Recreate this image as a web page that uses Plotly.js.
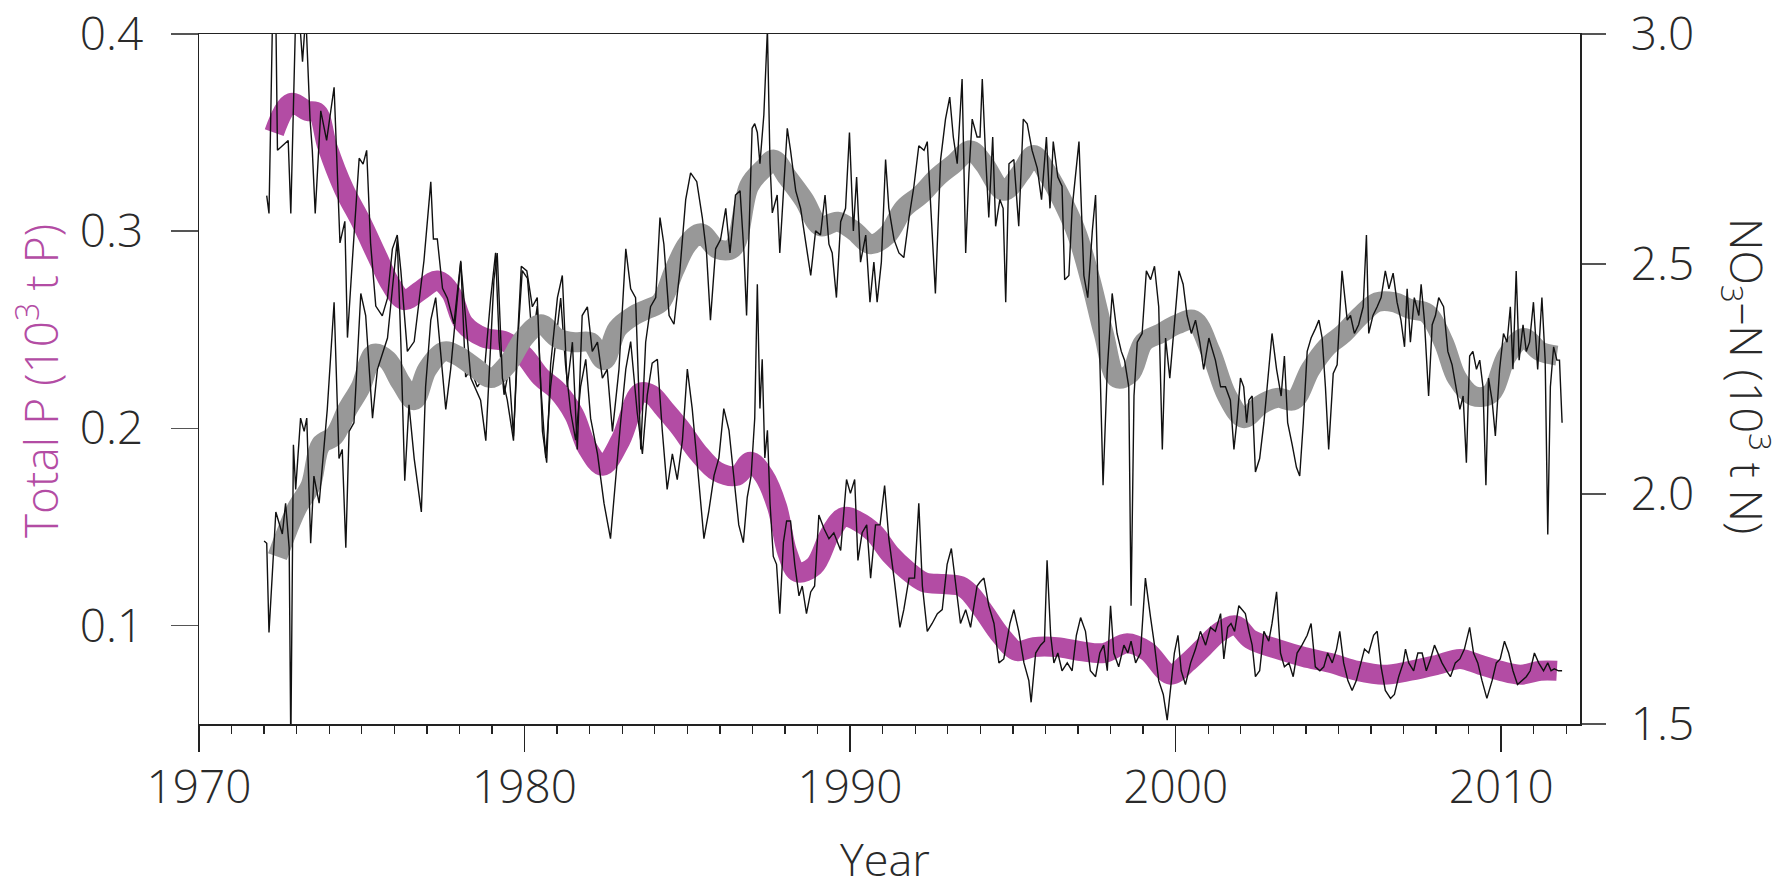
<!DOCTYPE html>
<html>
<head>
<meta charset="utf-8">
<script src="https://cdn.plot.ly/plotly-3.0.1.min.js"></script>
<style>html,body{margin:0;padding:0;background:#fff;}#chart{width:1785px;height:893px;}</style>
</head>
<body>
<div id="chart"></div>
<script>
// ---- Smoothed total P (10^3 t P), left axis ----
const pSmoothYear = [1972.31,1972.82,1973.33,1973.64,1973.94,1974.46,1974.97,1975.48,1975.89,1976.30,1976.81,1977.32,1977.73,1978.14,1978.75,1979.40,1979.98,1980.50,1981.01,1981.52,1981.93,1982.40,1982.95,1983.55,1983.90,1984.28,1984.79,1985.31,1985.92,1986.53,1986.94,1987.35,1987.76,1988.07,1988.38,1988.89,1989.40,1989.81,1990.22,1990.73,1991.24,1991.75,1992.27,1992.88,1993.39,1993.70,1994.11,1994.62,1995.13,1995.64,1996.36,1997.08,1997.79,1998.51,1999.12,1999.85,2000.35,2000.86,2001.38,2001.85,2002.30,2003.12,2003.94,2004.75,2005.57,2006.39,2007.21,2008.03,2008.74,2009.36,2009.97,2010.59,2011.20,2011.71];
const pSmooth = [0.350,0.365,0.361,0.360,0.343,0.321,0.305,0.287,0.273,0.265,0.270,0.275,0.269,0.253,0.246,0.244,0.237,0.226,0.219,0.207,0.190,0.181,0.194,0.218,0.217,0.210,0.200,0.188,0.178,0.176,0.183,0.176,0.160,0.137,0.127,0.130,0.147,0.155,0.153,0.147,0.136,0.128,0.122,0.121,0.120,0.116,0.107,0.095,0.087,0.089,0.089,0.087,0.086,0.091,0.087,0.075,0.081,0.089,0.097,0.100,0.093,0.088,0.084,0.081,0.077,0.075,0.077,0.080,0.083,0.080,0.077,0.075,0.077,0.077];

// ---- Smoothed NO3-N (10^3 t N), right axis ----
const nSmoothYear = [1972.41,1972.72,1973.02,1973.43,1973.74,1974.15,1974.56,1974.97,1975.38,1975.79,1976.20,1976.61,1977.01,1977.53,1977.94,1978.55,1978.96,1979.47,1979.98,1980.50,1981.01,1981.52,1982.03,1982.44,1982.85,1983.36,1983.77,1984.18,1984.59,1985.00,1985.41,1985.92,1986.40,1986.90,1987.35,1987.66,1988.07,1988.58,1989.09,1989.61,1990.12,1990.63,1991.14,1991.65,1992.16,1992.68,1993.19,1993.70,1994.11,1994.72,1995.24,1995.64,1996.05,1996.57,1996.98,1997.38,1997.79,1998.20,1998.61,1999.02,1999.53,2000.05,2000.56,2001.07,2001.58,2002.09,2002.61,2003.12,2003.63,2004.14,2004.65,2005.16,2005.68,2006.19,2006.70,2007.21,2007.72,2008.23,2008.64,2009.15,2009.67,2010.18,2010.69,2011.20,2011.71];
const nSmooth = [1.864,1.922,1.971,2.019,2.107,2.126,2.184,2.233,2.305,2.291,2.242,2.204,2.271,2.310,2.301,2.271,2.252,2.281,2.339,2.369,2.339,2.330,2.330,2.291,2.359,2.388,2.402,2.417,2.485,2.543,2.567,2.533,2.535,2.670,2.708,2.727,2.689,2.640,2.582,2.592,2.572,2.543,2.563,2.621,2.650,2.689,2.718,2.747,2.718,2.659,2.698,2.737,2.698,2.630,2.563,2.466,2.349,2.252,2.262,2.330,2.349,2.369,2.378,2.310,2.213,2.165,2.194,2.209,2.204,2.271,2.320,2.349,2.388,2.417,2.417,2.402,2.393,2.330,2.252,2.213,2.218,2.301,2.339,2.310,2.301];

// ---- Monthly total P ----
const pMonthlyYear = [1972.08,1972.15,1972.26,1972.36,1972.41,1972.61,1972.74,1972.82,1972.97,1973.12,1973.18,1973.28,1973.41,1973.48,1973.57,1973.74,1973.92,1974.15,1974.33,1974.48,1974.56,1974.71,1974.92,1975.04,1975.15,1975.27,1975.43,1975.63,1975.79,1975.94,1976.09,1976.20,1976.40,1976.61,1976.71,1976.91,1977.12,1977.20,1977.32,1977.48,1977.63,1977.83,1978.04,1978.19,1978.35,1978.55,1978.75,1978.96,
1979.11,1979.22,1979.37,1979.52,1979.66,1979.83,1979.93,1980.09,1980.24,1980.39,1980.50,1980.65,1980.80,1980.96,1981.11,1981.26,1981.42,1981.57,1981.72,1981.88,1982.03,1982.24,1982.44,1982.64,1982.80,1982.95,1983.11,1983.26,1983.46,1983.62,1983.77,1983.92,1984.08,1984.23,1984.38,1984.54,1984.69,1984.85,1985.00,1985.15,1985.31,1985.51,1985.66,1985.82,1985.97,1986.12,1986.28,1986.43,1986.58,
1986.72,1986.84,1986.96,1987.07,1987.15,1987.23,1987.30,1987.38,1987.46,1987.54,1987.64,1987.74,1987.84,1987.95,1988.05,1988.17,1988.30,1988.43,1988.53,1988.66,1988.79,1988.91,1989.04,1989.20,1989.35,1989.50,1989.71,1989.89,1990.01,1990.14,1990.24,1990.37,1990.51,1990.63,1990.78,1990.92,1991.06,1991.19,1991.35,1991.53,1991.65,1991.81,1991.98,1992.11,1992.22,1992.37,1992.52,1992.68,1992.83,1992.98,1993.11,1993.24,1993.39,1993.55,1993.70,1993.90,
1993.99,1994.11,1994.26,1994.42,1994.57,1994.72,1994.91,1995.03,1995.18,1995.34,1995.49,1995.56,1995.70,1995.85,1995.97,1996.05,1996.16,1996.26,1996.38,1996.51,1996.67,1996.82,1996.95,1997.08,1997.23,1997.38,1997.54,1997.67,1997.79,1997.90,1998.00,1998.10,1998.25,1998.41,1998.53,1998.63,1998.77,1998.92,1999.07,1999.23,1999.35,1999.48,1999.62,1999.74,1999.84,1999.96,2000.07,2000.17,2000.30,2000.46,2000.61,2000.76,2000.92,2001.07,2001.22,2001.38,
2001.48,2001.60,2001.70,2001.81,2001.94,2002.04,2002.14,2002.25,2002.35,2002.45,2002.58,2002.71,2002.86,2002.96,2003.10,2003.22,2003.34,2003.48,2003.61,2003.73,2003.88,2004.04,2004.16,2004.29,2004.43,2004.55,2004.67,2004.81,2004.94,2005.04,2005.16,2005.29,2005.42,2005.55,2005.68,2005.80,2005.93,2006.08,2006.19,2006.31,2006.44,2006.60,2006.72,2006.85,2006.99,2007.06,2007.16,2007.31,2007.44,2007.57,2007.70,2007.83,2007.95,2008.05,2008.18,2008.32,2008.44,2008.59,2008.73,
2008.87,2009.03,2009.15,2009.28,2009.41,2009.56,2009.72,2009.85,2009.97,2010.10,2010.23,2010.36,2010.50,2010.64,2010.77,2010.89,2011.02,2011.15,2011.30,2011.43,2011.53,2011.63,2011.76,2011.87];
const pMonthly = [0.318,0.309,0.41,0.41,0.341,0.344,0.346,0.309,0.41,0.40,0.386,0.41,0.357,0.341,0.309,0.361,0.346,0.373,0.294,0.305,0.246,0.285,0.337,0.334,0.341,0.294,0.262,0.257,0.266,0.291,0.298,0.280,0.239,0.244,0.257,0.285,0.325,0.296,0.296,0.271,0.266,0.253,0.285,0.226,0.230,0.221,0.226,0.266,
0.289,0.244,0.217,0.230,0.196,0.255,0.280,0.276,0.244,0.262,0.221,0.185,0.221,0.244,0.266,0.232,0.208,0.194,0.221,0.235,0.205,0.187,0.162,0.144,0.176,0.203,0.230,0.244,0.208,0.187,0.217,0.233,0.235,0.199,0.169,0.187,0.174,0.194,0.230,0.210,0.181,0.144,0.158,0.176,0.185,0.210,0.199,0.176,0.151,
0.142,0.165,0.176,0.205,0.273,0.210,0.235,0.185,0.199,0.162,0.135,0.131,0.106,0.142,0.153,0.153,0.131,0.115,0.120,0.106,0.117,0.120,0.156,0.149,0.144,0.147,0.138,0.174,0.167,0.174,0.133,0.147,0.151,0.124,0.151,0.151,0.171,0.144,0.124,0.099,0.108,0.124,0.124,0.162,0.120,0.097,0.101,0.106,0.108,0.131,0.139,0.120,0.101,0.108,0.099,0.120,
0.122,0.124,0.110,0.101,0.081,0.083,0.101,0.108,0.097,0.081,0.072,0.061,0.086,0.090,0.092,0.133,0.095,0.081,0.086,0.077,0.081,0.077,0.095,0.104,0.097,0.077,0.074,0.086,0.090,0.077,0.110,0.086,0.079,0.090,0.086,0.092,0.081,0.086,0.124,0.104,0.090,0.072,0.065,0.052,0.067,0.086,0.095,0.077,0.070,0.081,0.088,0.097,0.090,0.099,0.097,0.106,
0.083,0.099,0.101,0.097,0.110,0.108,0.106,0.097,0.090,0.074,0.077,0.097,0.092,0.101,0.117,0.086,0.079,0.081,0.074,0.086,0.090,0.095,0.101,0.079,0.077,0.079,0.086,0.081,0.088,0.097,0.081,0.072,0.067,0.072,0.081,0.088,0.086,0.095,0.097,0.079,0.067,0.063,0.065,0.074,0.081,0.088,0.081,0.077,0.086,0.086,0.077,0.083,0.090,0.086,0.081,0.077,0.074,0.081,0.083,
0.088,0.099,0.086,0.081,0.072,0.063,0.072,0.081,0.083,0.092,0.086,0.077,0.070,0.072,0.074,0.077,0.086,0.081,0.077,0.081,0.077,0.078,0.077,0.077];

// ---- Monthly NO3-N ----
const nMonthlyYear = [1972.00,1972.08,1972.15,1972.36,1972.56,1972.66,1972.77,1972.82,1972.90,1972.97,1973.12,1973.23,1973.31,1973.43,1973.53,1973.69,1973.94,1974.15,1974.30,1974.40,1974.51,1974.61,1974.76,1974.97,1975.12,1975.33,1975.48,1975.79,1976.09,1976.20,1976.32,1976.45,1976.61,1976.83,1976.96,1977.12,1977.27,1977.58,1977.73,1978.04,1978.35,1978.65,1978.81,1978.96,
1979.06,1979.16,1979.32,1979.47,1979.66,1979.78,1979.90,1980.07,1980.24,1980.39,1980.55,1980.68,1980.80,1981.01,1981.16,1981.31,1981.47,1981.62,1981.77,1981.93,1982.08,1982.24,1982.39,1982.54,1982.70,1982.90,1983.11,1983.26,1983.41,1983.57,1983.72,1983.87,1984.03,1984.16,1984.28,1984.44,1984.59,1984.77,1984.95,1985.10,1985.29,1985.46,1985.59,1985.71,1985.87,1986.02,1986.18,1986.31,1986.48,1986.62,
1986.74,1986.82,1986.92,1986.99,1987.07,1987.15,1987.23,1987.35,1987.46,1987.54,1987.61,1987.76,1987.84,1987.97,1988.07,1988.17,1988.33,1988.48,1988.63,1988.79,1988.94,1989.09,1989.23,1989.35,1989.45,1989.58,1989.71,1989.86,1989.98,1990.10,1990.20,1990.32,1990.48,1990.61,1990.73,1990.83,1990.96,1991.09,1991.19,1991.35,1991.50,1991.65,1991.81,1991.96,1992.11,1992.27,1992.37,1992.47,1992.62,1992.78,1992.93,1993.06,1993.17,1993.29,1993.44,1993.55,1993.65,1993.75,1993.90,
1993.99,1994.06,1994.16,1994.26,1994.38,1994.47,1994.60,1994.70,1994.78,1994.88,1995.03,1995.18,1995.32,1995.44,1995.59,1995.75,1995.88,1996.03,1996.14,1996.24,1996.38,1996.51,1996.59,1996.72,1996.82,1996.92,1997.03,1997.18,1997.30,1997.44,1997.54,1997.64,1997.77,1997.90,1998.05,1998.20,1998.33,1998.43,1998.56,1998.63,1998.72,1998.82,1998.97,1999.10,1999.23,1999.35,1999.48,1999.59,1999.69,1999.82,1999.96,2000.10,2000.23,2000.35,2000.48,2000.61,2000.74,2000.86,2001.02,2001.22,2001.38,
2001.53,2001.68,2001.79,2001.89,2001.99,2002.09,2002.18,2002.25,2002.35,2002.45,2002.58,2002.71,2002.86,2002.96,2003.10,2003.24,2003.34,2003.44,2003.58,2003.71,2003.81,2003.92,2004.04,2004.16,2004.29,2004.40,2004.50,2004.60,2004.70,2004.84,2004.96,2005.11,2005.27,2005.37,2005.49,2005.62,2005.76,2005.86,2005.93,2006.06,2006.19,2006.31,2006.44,2006.55,2006.68,2006.80,2006.92,2007.03,2007.11,2007.21,2007.33,2007.47,2007.54,2007.64,2007.77,2007.88,2007.98,2008.08,2008.23,2008.36,2008.49,2008.62,2008.73,
2008.83,2008.93,2009.03,2009.13,2009.24,2009.34,2009.44,2009.53,2009.61,2009.72,2009.82,2009.95,2010.07,2010.18,2010.28,2010.36,2010.46,2010.55,2010.67,2010.77,2010.87,2010.99,2011.12,2011.25,2011.35,2011.43,2011.51,2011.61,2011.71,2011.79,2011.87];
const nMonthly = [1.898,1.893,1.699,1.961,1.913,1.980,1.883,1.45,2.107,2.010,2.165,2.136,2.165,1.893,2.039,1.980,2.184,2.417,2.077,2.097,1.883,2.136,2.155,2.436,2.388,2.165,2.271,2.339,2.553,2.330,2.029,2.194,2.077,1.961,2.233,2.378,2.427,2.184,2.271,2.504,2.252,2.204,2.116,2.310,
2.466,2.524,2.252,2.204,2.116,2.330,2.495,2.485,2.407,2.427,2.136,2.068,2.281,2.427,2.475,2.233,2.330,2.097,2.388,2.407,2.310,2.330,2.252,2.271,2.136,2.271,2.533,2.446,2.427,2.097,2.330,2.407,2.427,2.601,2.543,2.388,2.369,2.485,2.640,2.698,2.679,2.601,2.524,2.378,2.533,2.553,2.621,2.524,2.650,2.659,
2.524,2.388,2.621,2.795,2.805,2.786,2.718,2.824,3.01,2.718,2.611,2.650,2.524,2.689,2.795,2.747,2.659,2.621,2.553,2.475,2.572,2.563,2.650,2.543,2.524,2.427,2.592,2.621,2.786,2.572,2.689,2.504,2.563,2.417,2.504,2.417,2.504,2.727,2.621,2.553,2.524,2.514,2.601,2.669,2.757,2.747,2.766,2.640,2.436,2.727,2.815,2.863,2.776,2.718,2.902,2.524,2.698,2.815,2.776,
2.776,2.902,2.737,2.601,2.776,2.582,2.640,2.621,2.417,2.718,2.727,2.582,2.815,2.805,2.747,2.708,2.640,2.776,2.621,2.766,2.689,2.669,2.466,2.475,2.621,2.698,2.766,2.475,2.427,2.572,2.650,2.378,2.019,2.271,2.436,2.349,2.310,2.291,2.233,1.757,2.213,2.330,2.349,2.485,2.466,2.495,2.407,2.097,2.339,2.252,2.378,2.485,2.456,2.388,2.349,2.378,2.330,2.271,2.339,2.291,2.233,
2.233,2.204,2.097,2.165,2.252,2.233,2.155,2.204,2.213,2.048,2.077,2.155,2.271,2.349,2.271,2.213,2.300,2.155,2.107,2.058,2.039,2.155,2.310,2.339,2.359,2.378,2.339,2.233,2.097,2.262,2.281,2.485,2.378,2.388,2.349,2.368,2.407,2.563,2.349,2.388,2.407,2.427,2.485,2.446,2.480,2.417,2.378,2.320,2.446,2.330,2.427,2.388,2.456,2.378,2.213,2.368,2.388,2.427,2.407,2.310,2.281,2.233,2.184,
2.213,2.068,2.300,2.310,2.271,2.291,2.233,2.019,2.252,2.203,2.126,2.271,2.349,2.330,2.407,2.271,2.485,2.291,2.368,2.310,2.330,2.417,2.271,2.427,2.291,1.912,2.233,2.320,2.291,2.291,2.155];

// ---- Axis ticks ----
const pTickVals = [0.1, 0.2, 0.3, 0.4];
const pTickText = ['0.1', '0.2', '0.3', '0.4'];
const nTickVals = [1.5, 2.0, 2.5, 3.0];
const nTickText = ['1.5', '2.0', '2.5', '3.0'];
const yearTickVals = [1970, 1980, 1990, 2000, 2010];
const yearTickText = ['1970', '1980', '1990', '2000', '2010'];

const MAGENTA = '#b34ca4';
const GREY = '#989898';
const FONT = {family: '"Open Sans", "Noto Sans", sans-serif', size: 46, color: '#2a2a2a', weight: 300};

const traces = [
  {x: nSmoothYear, y: nSmooth, yaxis: 'y2', mode: 'lines', line: {color: GREY, width: 20, shape: 'spline', smoothing: 1}, hoverinfo: 'skip'},
  {x: pSmoothYear, y: pSmooth, yaxis: 'y', mode: 'lines', line: {color: MAGENTA, width: 20, shape: 'spline', smoothing: 1}, hoverinfo: 'skip'},
  {x: nMonthlyYear, y: nMonthly, yaxis: 'y2', mode: 'lines', line: {color: '#111', width: 1.4}, hoverinfo: 'skip'},
  {x: pMonthlyYear, y: pMonthly, yaxis: 'y', mode: 'lines', line: {color: '#111', width: 1.4}, hoverinfo: 'skip'}
];

const L = 199, R = 1580, T = 34, B = 724;
const px = v => (v - L) / (R - L);
const py = v => (B - v) / (B - T);

const layout = {
  width: 1785, height: 893,
  margin: {l: L, r: 1785 - R, t: T, b: 893 - B, pad: 0},
  paper_bgcolor: '#fff', plot_bgcolor: '#fff',
  showlegend: false,
  font: FONT,
  xaxis: {
    range: [1970, 2012.42], showgrid: false, zeroline: false,
    showline: true, linecolor: '#222', linewidth: 1.5, mirror: true,
    tickmode: 'array', tickvals: yearTickVals, ticktext: yearTickText,
    ticks: 'outside', ticklen: 26, tickwidth: 1.5, tickcolor: '#222',
    ticklabelstandoff: -4,
    minor: {dtick: 1, tick0: 1970, ticks: 'outside', ticklen: 8, tickwidth: 1.3, tickcolor: '#222', showgrid: false},
    tickfont: FONT
  },
  yaxis: {
    range: [0.05, 0.4], showgrid: false, zeroline: false,
    showline: true, linecolor: '#222', linewidth: 1.5,
    tickmode: 'array', tickvals: pTickVals, ticktext: pTickText,
    ticks: 'outside', ticklen: 27, tickwidth: 1.5, tickcolor: '#555',
    ticklabelstandoff: 18,
    tickfont: FONT
  },
  yaxis2: {
    range: [1.5, 3.0], overlaying: 'y', side: 'right', showgrid: false, zeroline: false,
    showline: true, linecolor: '#222', linewidth: 1.5,
    tickmode: 'array', tickvals: nTickVals, ticktext: nTickText,
    ticks: 'outside', ticklen: 24, tickwidth: 1.5, tickcolor: '#555',
    ticklabelstandoff: 16,
    tickfont: FONT
  },
  annotations: [
    {xref: 'paper', yref: 'paper', x: px(38), y: py(381), xanchor: 'center', yanchor: 'middle', showarrow: false, textangle: -90,
     text: 'Total P (10<sup>3</sup> t P)', font: {family: FONT.family, size: 46, color: MAGENTA, weight: 300}},
    {xref: 'paper', yref: 'paper', x: px(1748), y: py(376), xanchor: 'center', yanchor: 'middle', showarrow: false, textangle: 90,
     text: 'NO<sub>3</sub>–N (10<sup>3</sup> t N)', font: {family: FONT.family, size: 45, color: '#2a2a2a', weight: 300}},
    {xref: 'paper', yref: 'paper', x: px(885), y: py(891), xanchor: 'center', yanchor: 'bottom', showarrow: false,
     text: 'Year', font: {family: FONT.family, size: 45, color: '#2a2a2a', weight: 300}}
  ]
};

Plotly.newPlot('chart', traces, layout, {staticPlot: true, displayModeBar: false});
</script>
</body>
</html>
